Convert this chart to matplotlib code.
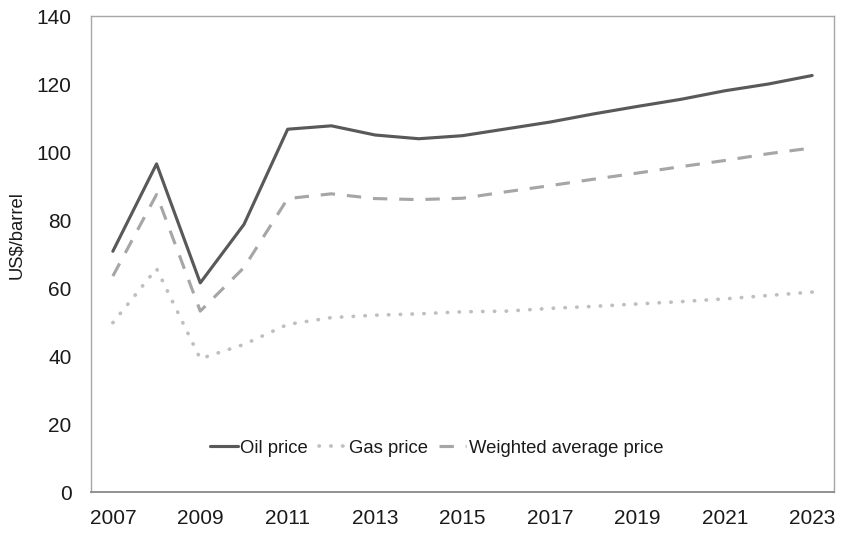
import matplotlib
matplotlib.use("Agg")
import matplotlib.pyplot as plt

years = list(range(2007, 2024))
oil_price = [70.8, 96.5, 61.5, 78.7, 106.7, 107.7, 105.0, 103.9, 104.8, 106.8,
             108.8, 111.2, 113.4, 115.5, 118.0, 120.0, 122.5]
gas_price = [49.8, 65.7, 39.2, 43.4, 49.3, 51.3, 52.0, 52.4, 53.0, 53.2,
             54.0, 54.6, 55.3, 56.0, 56.8, 57.8, 58.8]
weighted_price = [63.5, 87.5, 53.2, 66.0, 86.3, 87.7, 86.3, 86.0, 86.4, 88.3,
                  90.1, 92.0, 93.8, 95.7, 97.5, 99.5, 101.2]
xtick_labels = [str(y) for y in range(2007, 2024, 2)]

plt.rcParams['font.family'] = ['Liberation Sans', 'DejaVu Sans']

fig = plt.figure(figsize=(8.42, 5.35), dpi=100)
ax = fig.add_axes([91/842, 1 - 492/535, (834-91)/842, (492-16)/535])

lw = 2.25
ax.plot(years, oil_price, color='#595959', lw=lw, label='Oil price', solid_capstyle='round')
ax.plot(years, gas_price, color='#BFBFBF', lw=lw + 0.4, linestyle=(0, (0.1, 3.1)),
        dash_capstyle='round', label='Gas price')
ax.plot(years, weighted_price, color='#A6A6A6', lw=lw, linestyle=(0, (4.6, 3.8)),
        label='Weighted average price')

ax.set_xlim(2006.5, 2023.5)
ax.set_ylim(0, 140)
ax.set_yticks(range(0, 141, 20))
ax.set_xticks(list(range(2007, 2024, 2)))
ax.set_xticklabels(xtick_labels)
ax.tick_params(axis='both', length=0, labelsize=15, colors='#1a1a1a')
ax.tick_params(axis='x', pad=12)
ax.tick_params(axis='y', pad=14)
ax.set_ylabel('US$/barrel', fontsize=13.3, color='#1a1a1a')
ax.yaxis.set_label_coords(-0.088, 0.54)

for side in ['top', 'left', 'right']:
    ax.spines[side].set_color('#A6A6A6')
    ax.spines[side].set_linewidth(1.0)
ax.spines['bottom'].set_color('#898989')
ax.spines['bottom'].set_linewidth(1.3)

leg = ax.legend(loc='center', bbox_to_anchor=(0.465, 0.092), ncol=3, frameon=False,
                fontsize=13.3, handlelength=1.5, handletextpad=0.12, columnspacing=0.6)
for t in leg.get_texts():
    t.set_color('#1a1a1a')

fig.savefig('out.png', dpi=100)
